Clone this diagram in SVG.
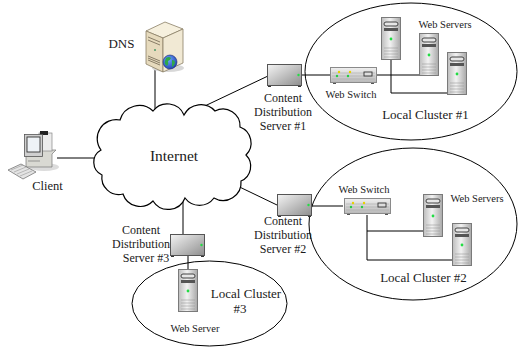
<svg xmlns="http://www.w3.org/2000/svg" xmlns:xlink="http://www.w3.org/1999/xlink" width="520" height="352" viewBox="0 0 520 352" font-family="'Liberation Serif', 'Times New Roman', serif">
  <style>
    text { font-family: 'Liberation Serif', 'Times New Roman', serif; fill: #1a1a1a; }
    .t12 { font-size: 12px; }
    .t13 { font-size: 13px; }
    .t10 { font-size: 10.5px; }
    .link { stroke: #000; stroke-width: 1; fill: none; }
    .cluster { fill: none; stroke: #000; stroke-width: 1; }
  </style>
  <defs>
    <linearGradient id="towerGrad" x1="0" y1="0" x2="1" y2="0">
      <stop offset="0" stop-color="#bdbdbd"/>
      <stop offset="0.45" stop-color="#f2f2f2"/>
      <stop offset="1" stop-color="#a8a8a8"/>
    </linearGradient>
    <linearGradient id="boxGrad" x1="0" y1="0" x2="1" y2="1">
      <stop offset="0" stop-color="#f4f4f4"/>
      <stop offset="1" stop-color="#8e8e8e"/>
    </linearGradient>
    <linearGradient id="switchGrad" x1="0" y1="0" x2="0" y2="1">
      <stop offset="0" stop-color="#f0f0f0"/>
      <stop offset="1" stop-color="#b8b8b8"/>
    </linearGradient>
    <radialGradient id="globeGrad" cx="0.4" cy="0.35" r="0.7">
      <stop offset="0" stop-color="#6fa8ff"/>
      <stop offset="1" stop-color="#1f3fb0"/>
    </radialGradient>
    <!-- tower server, 20 x 43 -->
    <symbol id="tower" overflow="visible">
      <rect x="0.5" y="0.5" width="19" height="42" fill="url(#towerGrad)" stroke="#7a7a7a" stroke-width="1"/>
      <rect x="3" y="5" width="14" height="4" rx="2" fill="#e6e6e6" stroke="#444" stroke-width="1"/>
      <rect x="3" y="11" width="14" height="3" fill="#555"/>
      <circle cx="10" cy="22" r="1.4" fill="#22dd44"/>
      <g stroke="#9a9a9a" stroke-width="0.6">
        <line x1="3" y1="31" x2="17" y2="31"/>
        <line x1="3" y1="34" x2="17" y2="34"/>
        <line x1="3" y1="37" x2="17" y2="37"/>
        <line x1="3" y1="40" x2="17" y2="40"/>
      </g>
    </symbol>
    <!-- content distribution box, 35 x 23 -->
    <symbol id="cdsBox" overflow="visible">
      <rect x="1" y="21" width="3" height="2" fill="#333"/>
      <rect x="31" y="21" width="3" height="2" fill="#333"/>
      <rect x="0.5" y="0.5" width="34" height="21" fill="url(#boxGrad)" stroke="#555" stroke-width="1"/>
      <circle cx="31.5" cy="11" r="1.2" fill="#22dd44"/>
    </symbol>
    <!-- web switch, 47 x 17 -->
    <symbol id="webSwitch" overflow="visible">
      <rect x="3" y="15" width="3" height="2" fill="#555"/>
      <rect x="41" y="15" width="3" height="2" fill="#555"/>
      <rect x="0.5" y="0.5" width="46" height="15" fill="url(#switchGrad)" stroke="#8a8a8a" stroke-width="1"/>
      <g stroke="#a8a8a8" stroke-width="0.6">
        <line x1="2" y1="6" x2="45" y2="6"/>
        <line x1="2" y1="9" x2="45" y2="9"/>
        <line x1="2" y1="12" x2="45" y2="12"/>
      </g>
      <circle cx="9" cy="5" r="1.2" fill="#e8d000"/>
      <circle cx="20" cy="5" r="1.2" fill="#e8d000"/>
      <circle cx="7" cy="9" r="1.2" fill="#22cc44"/>
      <circle cx="18" cy="9" r="1.2" fill="#22cc44"/>
      <rect x="34" y="5" width="8" height="4" fill="#ddd" stroke="#333" stroke-width="0.9"/>
    </symbol>
  </defs>

  <rect width="520" height="352" fill="#fff"/>

  <!-- cluster outlines -->
  <g id="cluster1">
    <ellipse class="cluster" cx="411" cy="71.5" rx="106" ry="68.5"/>
  </g>
  <g id="cluster2">
    <ellipse class="cluster" cx="413" cy="224" rx="104" ry="76"/>
  </g>
  <g id="cluster3">
    <ellipse class="cluster" cx="209.5" cy="303.5" rx="77.5" ry="42.5"/>
  </g>

  <!-- connectors -->
  <g id="connectors">
    <line class="link" x1="155" y1="70" x2="155" y2="115"/>
    <line class="link" x1="57" y1="158" x2="106" y2="158"/>
    <line class="link" x1="190" y1="113" x2="268" y2="76"/>
    <line class="link" x1="225" y1="180" x2="277" y2="205"/>
    <line class="link" x1="183" y1="192" x2="183" y2="235"/>
    <!-- cluster #1 wiring -->
    <line class="link" x1="302" y1="75" x2="330" y2="75"/>
    <line class="link" x1="377" y1="75" x2="419" y2="75"/>
    <polyline class="link" points="391,60 391,93 447,93"/>
    <!-- cluster #2 wiring -->
    <line class="link" x1="312" y1="206" x2="343" y2="206"/>
    <polyline class="link" points="367,215 367,260 452,260"/>
    <line class="link" x1="367" y1="231" x2="423" y2="231"/>
    <!-- cluster #3 wiring -->
    <line class="link" x1="188" y1="255" x2="188" y2="269"/>
  </g>

  <!-- Internet cloud -->
  <g id="internet">
    <path d="M101,150
             A19,19 0 0 1 120,120
             A20,20 0 0 1 153,111
             A18,18 0 0 1 184,115
             A19,19 0 0 1 215,111
             A17,17 0 0 1 240,127
             A17,17 0 0 1 246,155
             A16,16 0 0 1 241,181
             A18,18 0 0 1 214,198
             A18,18 0 0 1 185,198
             A18,18 0 0 1 153,201
             A18,18 0 0 1 123,194
             A17,17 0 0 1 102,175
             A14,14 0 0 1 101,150 Z"
          fill="#fff" stroke="#000" stroke-width="1.2"/>
    <text x="174" y="161" text-anchor="middle" font-size="15.5">Internet</text>
  </g>

  <!-- DNS server -->
  <g id="dns">
    <ellipse cx="168" cy="68" rx="16" ry="4" fill="#d8d8d8"/>
    <polygon points="146,31 165,22 183,29 163,38" fill="#f6f0de" stroke="#8a7f66" stroke-width="0.8"/>
    <polygon points="146,31 163,38 163,72 146,64" fill="#e6dabd" stroke="#8a7f66" stroke-width="0.8"/>
    <polygon points="163,38 183,29 183,63 163,72" fill="#f1e9d4" stroke="#8a7f66" stroke-width="0.8"/>
    <g stroke="#6e6450" stroke-width="0.8">
      <line x1="148" y1="37" x2="160" y2="42"/>
      <line x1="148" y1="40" x2="160" y2="45"/>
      <line x1="148" y1="56" x2="160" y2="61"/>
      <line x1="148" y1="58" x2="160" y2="63"/>
      <line x1="148" y1="60" x2="160" y2="65"/>
    </g>
    <circle cx="155" cy="50" r="1" fill="#4a9a6a"/>
    <circle cx="170" cy="62" r="7" fill="url(#globeGrad)" stroke="#1a2a70" stroke-width="0.6"/>
    <path d="M166,58 q3,-2 5,0 q-1,3 -3,3 q1,3 -1,5 q-3,-2 -2,-5 z" fill="#2fa84a"/>
    <path d="M172,60 q3,0 3,3 q-1,3 -3,4 q0,-4 0,-7 z" fill="#2fa84a"/>
    <text class="t13" x="121.5" y="48" text-anchor="middle">DNS</text>
  </g>

  <!-- client workstation -->
  <g id="client">
    <ellipse cx="44" cy="167" rx="15" ry="4" fill="#dcdcdc"/>
    <polygon points="26,153 32,150 56,150 52,154 52,167 26,167" fill="#d9d9d3" stroke="#777" stroke-width="0.7"/>
    <line x1="28" y1="161" x2="40" y2="161" stroke="#777" stroke-width="0.7"/>
    <rect x="39" y="133" width="13" height="18" fill="#ececec" stroke="#888" stroke-width="0.7"/>
    <rect x="40" y="131" width="8" height="4" fill="#222"/>
    <rect x="24.5" y="134.5" width="18" height="22" fill="#cfcfcf" stroke="#555" stroke-width="0.8"/>
    <rect x="27" y="137" width="13" height="15" fill="#eef2f6" stroke="#333" stroke-width="0.9"/>
    <polygon points="8,170 21,164 36,172 23,179" fill="#e4e4e4" stroke="#666" stroke-width="0.7"/>
    <g stroke="#888" stroke-width="0.5">
      <line x1="11" y1="170" x2="23" y2="165"/>
      <line x1="14" y1="172" x2="26" y2="167"/>
      <line x1="17" y1="174" x2="29" y2="169"/>
      <line x1="20" y1="176" x2="32" y2="171"/>
    </g>
    <text x="47.5" y="190" text-anchor="middle" font-size="12.5">Client</text>
  </g>

  <!-- content distribution servers -->
  <g id="cds1">
    <use xlink:href="#cdsBox" x="267" y="64"/>
    <text class="t12" text-anchor="middle"><tspan x="283" y="102">Content</tspan><tspan x="283" y="116">Distribution</tspan><tspan x="283" y="130">Server #1</tspan></text>
  </g>
  <g id="cds2">
    <use xlink:href="#cdsBox" x="277" y="194"/>
    <text class="t12" text-anchor="middle"><tspan x="283" y="225">Content</tspan><tspan x="283" y="239">Distribution</tspan><tspan x="283" y="253">Server #2</tspan></text>
  </g>
  <g id="cds3">
    <use xlink:href="#cdsBox" x="170" y="234"/>
    <text class="t12" text-anchor="middle"><tspan x="141" y="234">Content</tspan><tspan x="141" y="248">Distribution</tspan><tspan x="146" y="262">Server #3</tspan></text>
  </g>

  <!-- web switches -->
  <g id="switch1">
    <use xlink:href="#webSwitch" x="330" y="67"/>
    <text class="t10" x="351" y="98" text-anchor="middle">Web Switch</text>
  </g>
  <g id="switch2">
    <use xlink:href="#webSwitch" x="344" y="198"/>
    <text class="t10" x="364" y="193" text-anchor="middle">Web Switch</text>
  </g>

  <!-- web servers -->
  <g id="servers1">
    <use xlink:href="#tower" x="381" y="17"/>
    <use xlink:href="#tower" x="419" y="33"/>
    <use xlink:href="#tower" x="447" y="52"/>
    <text class="t10" x="445" y="28" text-anchor="middle">Web Servers</text>
    <text class="t13" x="425.5" y="119" text-anchor="middle">Local Cluster #1</text>
  </g>
  <g id="servers2">
    <use xlink:href="#tower" x="423" y="194"/>
    <use xlink:href="#tower" x="452" y="223"/>
    <text class="t10" x="477" y="202" text-anchor="middle">Web Servers</text>
    <text class="t13" x="423.5" y="282" text-anchor="middle">Local Cluster #2</text>
  </g>
  <g id="server3">
    <use xlink:href="#tower" x="178" y="269"/>
    <text class="t10" x="195" y="332" text-anchor="middle">Web Server</text>
    <text class="t13" text-anchor="middle"><tspan x="246" y="298">Local Cluster</tspan><tspan x="240" y="313">#3</tspan></text>
  </g>
</svg>
